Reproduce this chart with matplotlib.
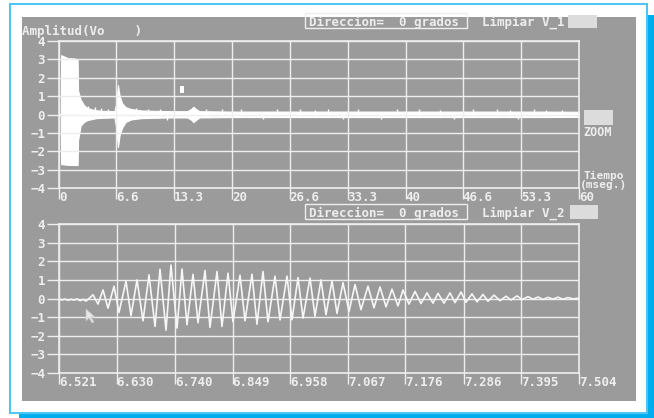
import matplotlib
matplotlib.use("Agg")
import matplotlib.pyplot as plt
from matplotlib.patches import Rectangle, Polygon

# Figure size in pixels
W, H = 654, 418
SCREEN = "#9b9b9b"   # gray oscilloscope screen
INK = "#eeeeee"      # light text / lines
FONT = dict(family="DejaVu Sans Mono", fontweight="bold", color=INK)

# ---- top trace: full capture (ms), drawn as signal envelope ----
top_ticks = [0, 6.6, 13.3, 20, 26.6, 33.3, 40, 46.6, 53.3, 60]
top_labels = ["0", "6.6", "13.3", "20", "26.6", "33.3", "40", "46.6", "53.3", "60"]
env_t = [0.0, 0.2, 0.25, 1.0, 1.8, 2.15, 2.2, 2.5, 2.9, 3.3, 3.8, 4.3, 5.0, 6.4,
         6.6, 6.8, 7.0, 7.3, 7.7, 8.3, 9.5, 11.0, 13.0, 14.8, 15.3, 15.5, 15.8,
         16.2, 18.0, 20.0, 25.0, 30.0, 35.0, 40.0, 45.0, 50.0, 55.0, 60.0]
env_hi = [0.0, 0.0, 3.23, 3.07, 3.05, 3.0, 1.3, 0.8, 0.5, 0.35, 0.28, 0.23, 0.2, 0.18,
          0.6, 1.6, 1.0, 0.6, 0.4, 0.3, 0.22, 0.2, 0.18, 0.18, 0.32, 0.42, 0.3,
          0.18, 0.17, 0.16, 0.16, 0.16, 0.16, 0.16, 0.16, 0.16, 0.16, 0.15]
env_lo = [0.0, 0.0, -2.7, -2.74, -2.75, -2.75, -1.4, -0.6, -0.4, -0.3, -0.25, -0.2, -0.18, -0.16,
          -0.7, -1.77, -1.1, -0.7, -0.4, -0.27, -0.2, -0.18, -0.16, -0.16, -0.3, -0.42, -0.3,
          -0.16, -0.15, -0.14, -0.14, -0.14, -0.14, -0.14, -0.14, -0.14, -0.14, -0.13]
# small noise spikes sticking out of the band
spike_t = [2.7, 3.4, 4.1, 4.8, 5.6, 8.9, 10.3, 11.6, 12.5, 17.0, 18.8, 21.0, 23.5, 25.2,
           27.8, 29.5, 31.0, 32.8, 34.5, 37.2, 39.0, 41.5, 44.0, 45.6, 47.8, 50.5, 52.0,
           53.0, 54.8, 56.2, 58.0]
spike_v = [0.7, 0.45, 0.4, 0.35, 0.32, 0.33, 0.3, 0.3, -0.28, 0.3, 0.28, 0.3, -0.25, 0.28,
           0.3, 0.27, 0.28, -0.24, 0.3, -0.25, 0.28, 0.3, 0.27, -0.24, 0.3, 0.28, 0.27,
           -0.24, 0.28, 0.27, 0.26]
# small cursor block near 14 ms
mark_t = [14.0, 14.45]
mark_v = [1.15, 1.55]

# ---- bottom trace: zoomed window (ms) ----
zoom_ticks = [6.521, 6.630, 6.740, 6.849, 6.958, 7.067, 7.176, 7.286, 7.395, 7.504]
zoom_labels = ["6.521", "6.630", "6.740", "6.849", "6.958", "7.067", "7.176", "7.286", "7.395", "7.504"]
zoom_t = [6.5210, 6.5267, 6.5323, 6.5380, 6.5437, 6.5494, 6.5550, 6.5607, 6.5664, 6.5720, 6.5777,
          6.5853, 6.5947, 6.6042, 6.6136, 6.6250, 6.6344, 6.6477, 6.6571, 6.6685, 6.6798,
          6.6911, 6.7025, 6.7119, 6.7233, 6.7327, 6.7441, 6.7535, 6.7630, 6.7743, 6.7838,
          6.7970, 6.8064, 6.8197, 6.8291, 6.8405, 6.8499, 6.8632, 6.8726, 6.8858, 6.8953,
          6.9066, 6.9161, 6.9293, 6.9388, 6.9520, 6.9615, 6.9728, 6.9823, 6.9955, 7.0049,
          7.0163, 7.0257, 7.0371, 7.0465, 7.0579, 7.0692, 7.0806, 7.0919, 7.1051, 7.1165,
          7.1278, 7.1392, 7.1505, 7.1618, 7.1713, 7.1826, 7.1940, 7.2053, 7.2167, 7.2280,
          7.2375, 7.2488, 7.2601, 7.2696, 7.2810, 7.2904, 7.3017, 7.3112, 7.3225, 7.3320,
          7.3433, 7.3547, 7.3660, 7.3754, 7.3868, 7.3963, 7.4076, 7.4171, 7.4265, 7.4360,
          7.4454, 7.4549, 7.4643, 7.4738, 7.4832, 7.4927, 7.5040]
zoom_v = [-0.02, -0.08, -0.03, -0.10, -0.04, -0.09, -0.02, -0.12, -0.05, -0.14, 0.0,
          0.20, -0.30, 0.46, -0.52, 0.66, -0.75, 0.93, -0.92, 1.00, -1.20,
          1.27, -1.50, 1.57, -1.70, 1.80, -1.59, 1.58, -1.41, 1.30, -1.30,
          1.50, -1.55, 1.45, -1.50, 1.36, -1.25, 1.25, -1.20, 1.30, -1.38,
          1.45, -1.25, 1.20, -1.15, 1.20, -1.14, 1.12, -1.05, 1.10, -0.95,
          1.00, -0.87, 0.95, -0.80, 0.85, -0.70, 0.75, -0.60, 0.66, -0.50,
          0.62, -0.45, 0.50, -0.40, 0.46, -0.30, 0.38, -0.27, 0.30, -0.25,
          0.28, -0.25, 0.30, -0.22, 0.35, -0.20, 0.25, -0.18, 0.22, -0.15,
          0.18, -0.12, 0.12, -0.08, 0.14, -0.06, 0.10, -0.04, 0.08, -0.05,
          0.06, -0.03, 0.07, -0.04, 0.05, -0.02, 0.02]

y_ticks = [4, 3, 2, 1, 0, -1, -2, -3, -4]


def px_rect(left, top, right, bottom):
    """Pixel box (from top-left) -> figure fraction rect."""
    return [left / W, 1 - bottom / H, (right - left) / W, (bottom - top) / H]


def fig_text(x, y, s, size=9, **kw):
    fig.text(x / W, 1 - y / H, s, fontsize=size, va="center", **FONT, **kw)


def fig_box(left, top, right, bottom, fill=False):
    fig.patches.append(Rectangle((left / W, 1 - bottom / H), (right - left) / W,
                                 (bottom - top) / H, transform=fig.transFigure,
                                 fill=fill, facecolor="#dcdcdc", edgecolor=INK,
                                 linewidth=1.0 if not fill else 0.0))


def style_axes(ax, ticks, labels, xlim):
    ax.set_facecolor(SCREEN)
    ax.set_xlim(*xlim)
    ax.set_ylim(-4, 4)
    ax.set_xticks(ticks)
    ax.set_xticklabels(labels)
    ax.set_yticks(y_ticks)
    ax.set_yticklabels([str(v).replace("-", "\u2212") for v in y_ticks])
    ax.grid(True, color=INK, linewidth=1.0)
    for s in ax.spines.values():
        s.set_color(INK)
        s.set_linewidth(1.2)
    ax.tick_params(axis="x", length=8, width=1.0, color=INK, pad=-6, labelsize=9, labelcolor=INK)
    ax.tick_params(axis="y", length=9, width=1.0, color=INK, pad=1, labelsize=9, labelcolor=INK)
    for lbl in ax.get_xticklabels() + ax.get_yticklabels():
        lbl.set_fontfamily("DejaVu Sans Mono")
        lbl.set_fontweight("bold")
    for lbl in ax.get_xticklabels():
        lbl.set_ha("left")


fig = plt.figure(figsize=(W / 100, H / 100), dpi=100)
fig.patch.set_facecolor("white")

# page frame: blue drop shadow, white card with cyan border, gray screen
fig.patches.append(Rectangle((19 / W, 0), (W - 19) / W, (H - 15) / H, transform=fig.transFigure,
                             facecolor="#00aeef", edgecolor="none", zorder=-3))
fig.patches.append(Rectangle((10 / W, 1 - 413 / H), (647 - 10) / W, (413 - 4) / H,
                             transform=fig.transFigure, facecolor="white",
                             edgecolor="#4fc6f2", linewidth=1.5, zorder=-2))
fig.patches.append(Rectangle((22 / W, 1 - 401 / H), (636 - 22) / W, (401 - 17) / H,
                             transform=fig.transFigure, facecolor=SCREEN, edgecolor="none",
                             zorder=-1))

# top panel
ax1 = fig.add_axes(px_rect(59, 41, 579, 188))
style_axes(ax1, top_ticks, top_labels, (0, 60))
ax1.fill_between(env_t, env_lo, env_hi, color="white", linewidth=0.8, edgecolor="white")
ax1.vlines(spike_t, 0, spike_v, color="white", linewidth=1.0)
ax1.add_patch(Rectangle((mark_t[0], mark_v[0]), mark_t[1] - mark_t[0], mark_v[1] - mark_v[0],
                        facecolor="white", edgecolor="none"))

# bottom panel
ax2 = fig.add_axes(px_rect(59, 224, 579, 373))
style_axes(ax2, zoom_ticks, zoom_labels, (zoom_ticks[0], zoom_ticks[-1]))
ax2.plot(zoom_t, zoom_v, color="#f6f6f6", linewidth=1.2)

# screen texts and buttons
fig_text(22, 31, "Amplitud(Vo    )")
fig_box(305, 13, 467, 28)
fig_text(309, 22, "Direccion=  0 grados")
fig_text(482, 22, "Limpiar V_1")
fig_box(568, 15, 597, 28, fill=True)
fig_box(584, 110, 613, 125, fill=True)
fig_text(583, 133, "ZOOM", size=8.5)
fig_text(584, 176, "Tiempo", size=8)
fig_text(580, 185, "(mseg.)", size=8)
fig_box(305, 204, 467, 219)
fig_text(309, 213, "Direccion=  0 grados")
fig_text(482, 213, "Limpiar V_2")
fig_box(570, 205, 598, 219, fill=True)

# mouse pointer
cx, cy = 86, 309
arrow = [(0, 0), (0, 12), (3, 9), (6, 14), (8, 13), (5, 8), (9, 8)]
fig.patches.append(Polygon([((cx + dx) / W, 1 - (cy + dy) / H) for dx, dy in arrow],
                           closed=True, transform=fig.transFigure,
                           facecolor="#e8e8e8", edgecolor="#c0c0c0", linewidth=0.5))

fig.savefig("out.png", dpi=100)
